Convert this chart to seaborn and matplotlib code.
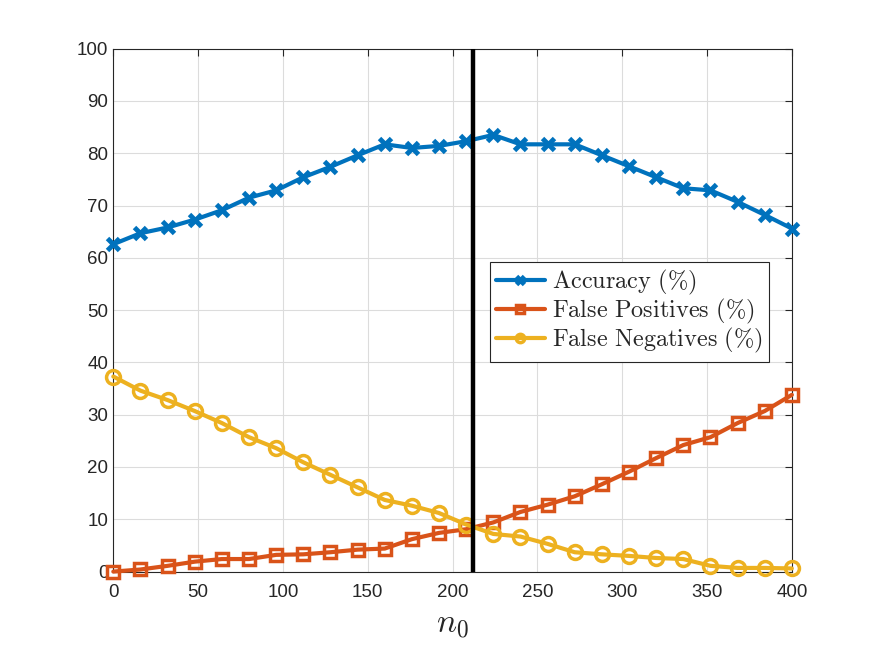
import numpy as np
import pandas as pd
import matplotlib
matplotlib.use("Agg")
import matplotlib.pyplot as plt
import seaborn as sns

# ---- data ----
n0 = [0, 16, 32, 48, 64, 80, 96, 112, 128, 144, 160, 176, 192, 208, 224,
      240, 256, 272, 288, 304, 320, 336, 352, 368, 384, 400]
accuracy = [62.6, 64.7, 65.8, 67.3, 69.1, 71.5, 72.9, 75.4, 77.4, 79.6, 81.7, 81.0, 81.4, 82.3, 83.5,
            81.7, 81.7, 81.7, 79.6, 77.5, 75.4, 73.3, 72.9, 70.7, 68.2, 65.6]
false_pos = [0.0, 0.4, 1.1, 1.9, 2.4, 2.4, 3.2, 3.3, 3.7, 4.2, 4.4, 6.2, 7.4, 8.1, 9.4,
             11.4, 12.8, 14.4, 16.7, 19.1, 21.7, 24.2, 25.7, 28.4, 30.7, 33.8]
false_neg = [37.3, 34.6, 32.8, 30.7, 28.4, 25.7, 23.6, 20.9, 18.5, 16.1, 13.7, 12.6, 11.2, 9.0, 7.2,
             6.7, 5.3, 3.7, 3.3, 3.0, 2.6, 2.4, 1.1, 0.7, 0.7, 0.6]
threshold = 212
series_labels = [r"$\mathrm{Accuracy\ (\%)}$", r"$\mathrm{False\ Positives\ (\%)}$",
                 r"$\mathrm{False\ Negatives\ (\%)}$"]
xticks = [0, 50, 100, 150, 200, 250, 300, 350, 400]
yticks = [0, 10, 20, 30, 40, 50, 60, 70, 80, 90, 100]

sns.set_style("white")
plt.rcParams["font.family"] = ["Liberation Sans", "DejaVu Sans"]
plt.rcParams["mathtext.fontset"] = "cm"

df = pd.DataFrame({"n0": n0, "acc": accuracy, "fp": false_pos, "fn": false_neg})

fig = plt.figure(figsize=(8.75, 6.57), dpi=100)
ax = fig.add_axes([0.1295, 0.1300, 0.7755, 0.7960])

blue, red, yellow = "#0072BD", "#D95319", "#EDB120"
lw = 3.0
sns.lineplot(data=df, x="n0", y="acc", ax=ax, color=blue, lw=lw, marker="x",
             markersize=9, markeredgewidth=3.5, markeredgecolor=blue, label=series_labels[0],
             clip_on=False, zorder=6)
sns.lineplot(data=df, x="n0", y="fp", ax=ax, color=red, lw=lw, marker="s",
             markersize=8, markeredgewidth=2.5, markerfacecolor="none", markeredgecolor=red,
             label=series_labels[1], clip_on=False, zorder=6)
sns.lineplot(data=df, x="n0", y="fn", ax=ax, color=yellow, lw=lw, marker="o",
             markersize=10, markeredgewidth=2.5, markerfacecolor="none", markeredgecolor=yellow,
             label=series_labels[2], clip_on=False, zorder=6)
ax.axvline(threshold, color="black", lw=3.2, zorder=7)

ax.set_xlim(0, 400)
ax.set_ylim(0, 100)
ax.set_xticks(xticks)
ax.set_yticks(yticks)
ax.grid(True, color="#dcdcdc", lw=0.8)
ax.set_axisbelow(True)
for s in ax.spines.values():
    s.set_visible(True)
    s.set_color("#262626")
    s.set_linewidth(0.8)
ax.tick_params(direction="in", length=5, width=0.8, colors="#262626",
               labelsize=13.5, top=True, right=True, labeltop=False, labelright=False)
ax.tick_params(axis="x", pad=9)
ax.set_xlabel(r"$n_0$", fontsize=24, labelpad=6)
ax.set_ylabel("")

leg = ax.legend(loc="upper left", bbox_to_anchor=(0.555, 0.592), borderaxespad=0,
                fancybox=False, frameon=True, edgecolor="#262626", fontsize=17.5,
                handlelength=2.0, handletextpad=0.3, labelspacing=0.0, borderpad=0.25)
leg.get_frame().set_linewidth(0.8)
leg.get_frame().set_alpha(1)
leg.set_zorder(10)
for h in leg.legend_handles:
    h.set_markersize(6)

fig.savefig("out.png", dpi=100)
